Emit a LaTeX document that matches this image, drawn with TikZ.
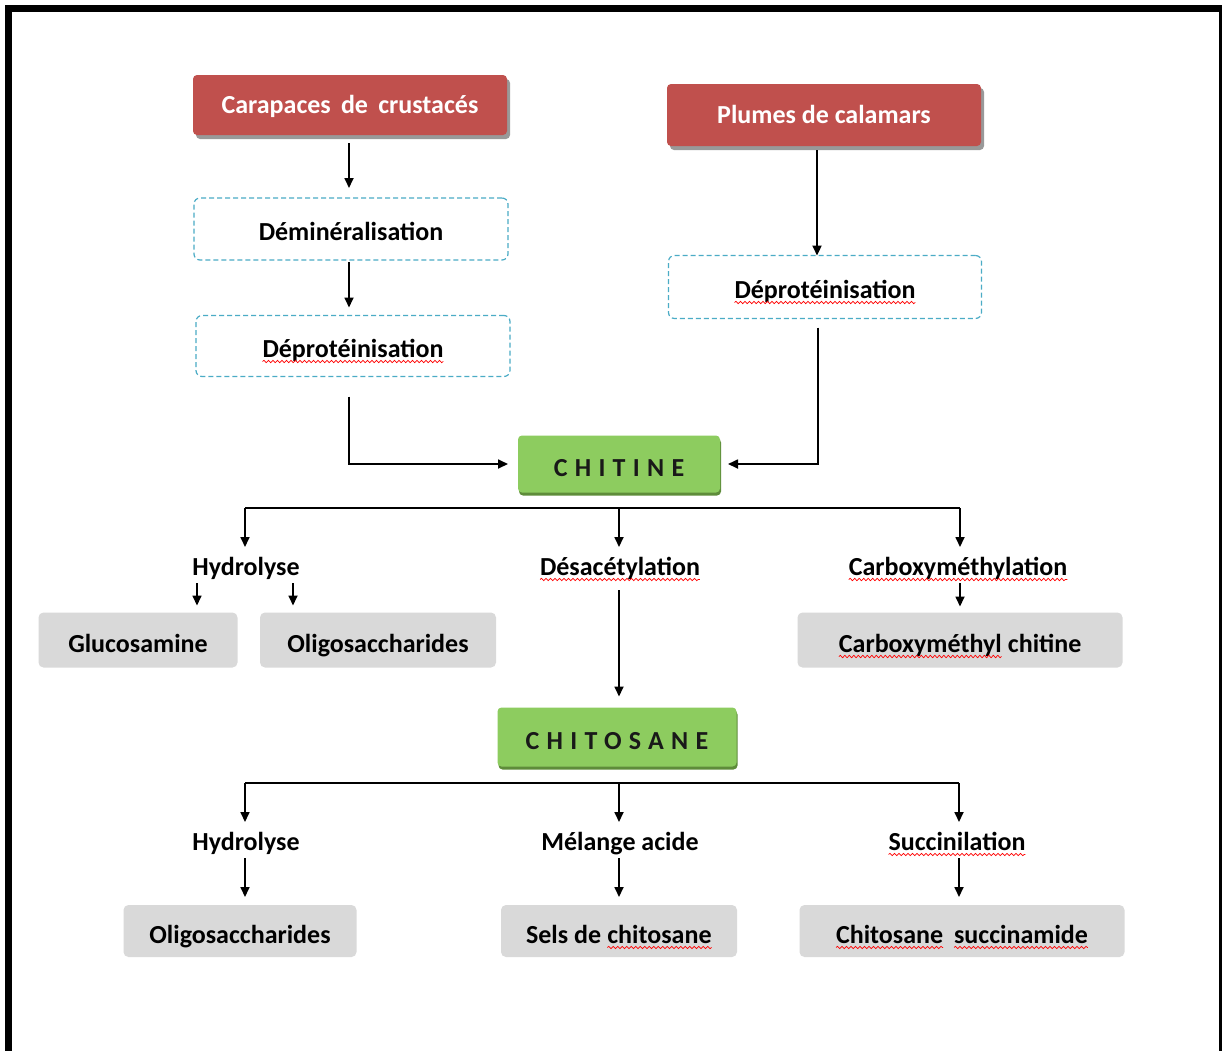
\documentclass[tikz,border=0pt]{standalone}
\usepackage{fontspec}
\setmainfont{Carlito}
\usetikzlibrary{arrows.meta,shadows,decorations.pathmorphing}
\definecolor{cred}{HTML}{C0504D}
\definecolor{cgreen}{HTML}{8DCC5F}
\definecolor{cgreendk}{HTML}{5E8C3A}
\definecolor{cgray}{HTML}{D9D9D9}
\definecolor{cdash}{HTML}{4BACC6}
\tikzset{
  sqnode/.style={shape=rectangle, inner sep=0pt, outer sep=0pt, draw=none, fill=none, text=black,
    minimum width=0pt, minimum height=0pt, sharp corners, solid, line width=0.4pt,
    text height=, text depth=},
  sqline/.style={draw=red, line width=0.7pt, solid, sharp corners,
    decorate, decoration={snake, amplitude=1.2pt, segment length=4.5pt}}
}
\newcommand\sq[1]{\tikz[baseline=(sqw.base)]{\node[sqnode] (sqw) {#1};
  \path[sqline] ([yshift=-4.5pt]sqw.base west) -- ([yshift=-4.5pt]sqw.base east);}}
\begin{document}
\begin{tikzpicture}[x=1pt,y=-1pt,
  font=\fontsize{26}{30}\selectfont\bfseries,
  base/.style={inner sep=0pt, outer sep=0pt, align=center, text depth=0pt},
  redbox/.style={base, text height=16pt, fill=cred, rounded corners=4pt, text=white,
    drop shadow={shadow xshift=3pt, shadow yshift=-4pt, fill=black!40, opacity=1}},
  dashbox/.style={base, text height=22pt, draw=cdash, line width=1.2pt, rounded corners=6pt, dash pattern=on 5pt off 3pt},
  greenbox/.style={base, text height=25pt, fill=cgreen, rounded corners=4pt, text=black!90,
    drop shadow={shadow xshift=1pt, shadow yshift=-3pt, fill=cgreendk, opacity=1},
    font=\fontsize{26}{30}\selectfont\bfseries\addfontfeature{LetterSpace=28}},
  graybox/.style={base, text height=24pt, fill=cgray, rounded corners=5pt},
  lab/.style={base, text height=20pt},
  arr/.style={-{Triangle[length=10pt,width=9pt]}, line width=1.7pt},
  ln/.style={line width=1.7pt}
]
\useasboundingbox (0,0) rectangle (1223,1050);
\fill[white] (0,0) rectangle (1223,1050);
% frame
\draw[line width=7pt] (8.5,1052) -- (8.5,8.5) -- (1222,8.5);
\draw[line width=3pt] (1220,8) -- (1220,1052);

% top boxes
\node[redbox, minimum width=314pt, minimum height=60pt] (red1) at (350,105) {Carapaces\, de\, crustacés};
\node[redbox, minimum width=314pt, minimum height=62pt] (red2) at (824,115) {Plumes de calamars};
\node[dashbox, minimum width=314pt, minimum height=62pt] (dem) at (351,229) {Déminéralisation};
\node[dashbox, minimum width=314pt, minimum height=61pt] (dep1) at (353,346) {\sq{Déprotéinisation}};
\node[dashbox, minimum width=313pt, minimum height=63pt] (dep2) at (825,287) {\sq{Déprotéinisation}};

\node[greenbox, minimum width=202pt, minimum height=57pt] (chitine) at (619,464) {CHITINE};
\node[greenbox, minimum width=239pt, minimum height=59pt] (chitosane) at (617,737) {CHITOSANE};

% labels
\node[lab] (hyd1) at (246,565) {Hydrolyse};
\node[lab] (desac) at (620,565) {\sq{Désacétylation}};
\node[lab] (carbox) at (958,565) {\sq{Carboxyméthylation}};
\node[lab] (hyd2) at (246,840) {Hydrolyse};
\node[lab] (mel) at (620,840) {Mélange acide};
\node[lab] (succin) at (957,840) {\sq{Succinilation}};

% gray boxes
\node[graybox, minimum width=199pt, minimum height=55pt] (gluc) at (138,640) {Glucosamine};
\node[graybox, minimum width=236pt, minimum height=55pt] (oligo1) at (378,640) {Oligosaccharides};
\node[graybox, minimum width=325pt, minimum height=55pt] (cmc) at (960,640) {\sq{Carboxyméthyl} chitine};
\node[graybox, minimum width=233pt, minimum height=52pt] (oligo2) at (240,931) {Oligosaccharides};
\node[graybox, minimum width=236pt, minimum height=52pt] (sels) at (619,931) {Sels de \sq{chitosane}};
\node[graybox, minimum width=325pt, minimum height=52pt] (succ) at (962,931) {\sq{Chitosane}\, \sq{succinamide}};

% connectors top
\draw[arr, shorten <=8pt, shorten >=10pt] ([xshift=-1pt]red1.south) -- ([xshift=-2pt]dem.north);
\draw[arr, shorten <=2pt, shorten >=8pt] ([xshift=-2pt]dem.south) -- ([xshift=-4pt]dep1.north);
\draw[arr, shorten <=20pt, shorten >=10pt] ([xshift=-4pt]dep1.south) |- (chitine.west);
\draw[arr, line width=2.2pt, shorten <=4pt] ([xshift=-7pt]red2.south) -- ([xshift=-8pt]dep2.north);
\draw[arr, shorten <=9pt, shorten >=8pt] ([xshift=-7pt]dep2.south) |- (chitine.east);

% bus 1
\coordinate (b1L) at (245,508);
\coordinate (b1M) at (619,508);
\coordinate (b1R) at (960,508);
\draw[ln] (b1L) -- (b1R);
\draw[arr, shorten >=8pt] (b1L) -- (b1L |- hyd1.north);
\draw[arr, shorten >=8pt] (b1M) -- (b1M |- desac.north);
\draw[arr, shorten >=8pt] (b1R) -- (b1R |- carbox.north);

\coordinate (h1a) at (197,583);
\coordinate (h1b) at (293,583);
\draw[arr, shorten >=7pt] (h1a) -- (h1a |- gluc.north);
\draw[arr, shorten >=7pt] (h1b) -- (h1b |- oligo1.north);
\draw[arr, shorten <=8pt, shorten >=6pt] (carbox.south -| b1R) -- (b1R |- cmc.north);
\draw[arr, shorten <=15pt, shorten >=11pt] (desac.south -| b1M) -- (b1M |- chitosane.north);

% bus 2
\coordinate (b2L) at (245,783);
\coordinate (b2M) at (619,783);
\coordinate (b2R) at (959,783);
\draw[ln] (b2L) -- (b2R);
\draw[arr, shorten >=8pt] (b2L) -- (b2L |- hyd2.north);
\draw[arr, shorten >=8pt] (b2M) -- (b2M |- mel.north);
\draw[arr, shorten >=8pt] (b2R) -- (b2R |- succin.north);
\draw[arr, shorten <=8pt, shorten >=8pt] (hyd2.south -| b2L) -- (b2L |- oligo2.north);
\draw[arr, shorten <=8pt, shorten >=8pt] (mel.south -| b2M) -- (b2M |- sels.north);
\draw[arr, shorten <=8pt, shorten >=8pt] (succin.south -| b2R) -- (b2R |- succ.north);
\end{tikzpicture}
\end{document}
